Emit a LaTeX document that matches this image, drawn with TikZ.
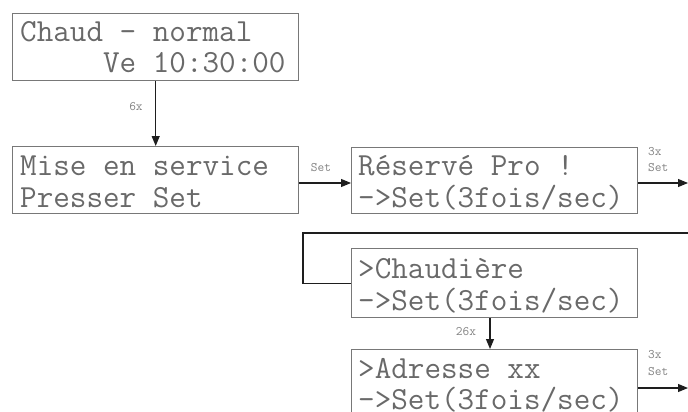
\documentclass[tikz,border=0pt]{standalone}
\usepackage{fontspec}
\usetikzlibrary{calc,arrows.meta}
\definecolor{txtgray}{RGB}{105,105,105}
\definecolor{boxgray}{RGB}{120,120,120}
\definecolor{lblgray}{RGB}{130,130,130}
\definecolor{arrblack}{RGB}{30,30,30}
\tikzset{
  screen/.style={draw=boxgray, line width=1.4pt, rectangle, inner sep=0pt},
  lcdtxt/.style={anchor=base west, inner sep=0pt, text=txtgray, font=\ttfamily\fontsize{32.2}{34}\selectfont},
  lbl/.style={inner sep=0pt, text=lblgray, font=\ttfamily\fontsize{13}{14}\selectfont},
  conn/.style={draw=arrblack, line width=1.1pt},
  arr/.style={conn, -{Triangle[length=10pt,width=8pt]}}
}
\begin{document}
\begin{tikzpicture}[x=1pt,y=-1pt]
\useasboundingbox (0,0) rectangle (688,412);
\clip (0,0) rectangle (688,412);
% boxes
\node[screen, minimum width=286pt, minimum height=67pt, anchor=north west] (b1) at (12,13) {};
\node[screen, minimum width=286pt, minimum height=67pt, anchor=north west] (b2) at (12,146) {};
\node[screen, minimum width=286pt, minimum height=66pt, anchor=north west] (b3) at (351,147) {};
\node[screen, minimum width=286pt, minimum height=69pt, anchor=north west] (b4) at (351,248) {};
\node[screen, minimum width=286pt, minimum height=67pt, anchor=north west] (b5) at (351,349) {};
% texts
\node[lcdtxt] (t1a) at ($(b1.north west)+(8,29)$) {Chaud - normal};
\node[lcdtxt] (t1b) at ($(b1.north west)+(8,60)$) {\ \ \ \ \ Ve 10:30:00};
\node[lcdtxt] (t2a) at ($(b2.north west)+(8,29)$) {Mise en service};
\node[lcdtxt] (t2b) at ($(b2.north west)+(8,61)$) {Presser Set};
\node[lcdtxt] (t3a) at ($(b3.north west)+(7,28)$) {Réservé Pro !};
\node[lcdtxt] (t3b) at ($(b3.north west)+(7,60)$) {->Set(3fois/sec)};
\node[lcdtxt] (t4a) at ($(b4.north west)+(7,30)$) {>Chaudière};
\node[lcdtxt] (t4b) at ($(b4.north west)+(7,62)$) {->Set(3fois/sec)};
\node[lcdtxt] (t5a) at ($(b5.north west)+(7,29)$) {>Adresse xx};
\node[lcdtxt] (t5b) at ($(b5.north west)+(7,60)$) {->Set(3fois/sec)};
% coordinates
\coordinate (o1) at (688,183);
\coordinate (r1) at (688,233);
\coordinate (l1) at (303,233);
\coordinate (o2) at (688,388);
\coordinate (m1) at (490,0);
% connectors
\draw[arr] (b1.south) -- (b2.north);
\draw[arr] (b2.east |- o1) -- (b3.west |- o1);
\draw[arr] (b3.east |- o1) -- (o1);
\draw[conn] (r1) -- (l1) |- (b4.west);
\draw[arr] (b4.south -| m1) -- (b5.north -| m1);
\draw[arr] (b5.east |- o2) -- (o2);
% labels
\node[lbl] (L1) at (136,107) {6x};
\node[lbl] (L2) at (321,168) {Set};
\node[lbl, anchor=west] (L3) at (648,152) {3x};
\node[lbl, anchor=west] (L4) at (648,168) {Set};
\node[lbl] (L5) at (466,332) {26x};
\node[lbl, anchor=west] (L6) at (648,355) {3x};
\node[lbl, anchor=west] (L7) at (648,372) {Set};
\end{tikzpicture}
\end{document}
